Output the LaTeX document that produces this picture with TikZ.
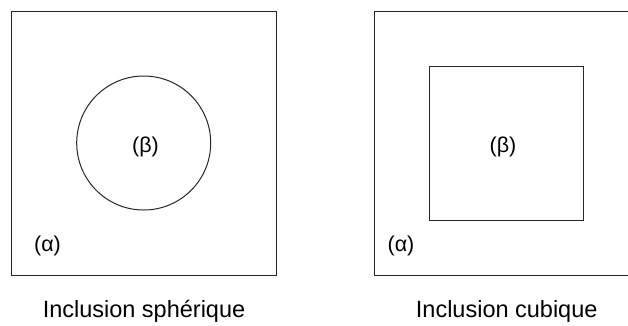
\documentclass[tikz,border=0pt]{standalone}
\usepackage{fontspec}
\setmainfont{Liberation Sans}
\begin{document}
\begin{tikzpicture}[x=1pt,y=-1pt,
  shapeline/.style={draw=black!85, line width=1pt},
  lbl/.style={font=\fontsize{21.5}{26}\selectfont, inner sep=0pt},
  captxt/.style={font=\fontsize{23.5}{28}\selectfont, inner sep=0pt, anchor=base}]
\useasboundingbox (0,0) rectangle (628,325);
\clip (0,0) rectangle (628,325);
% left panel
\draw[shapeline] (11,11) rectangle (276,275);
\node[shapeline, circle, minimum size=134pt, inner sep=0pt] (c1) at (143.7,143) {};
\node[lbl] (b1) at (145.5,147) {(β)};
\node[lbl] (a1) at (47.5,246) {(α)};
\node[captxt] (t1) at (144,317.5) {Inclusion sphérique};
% right panel
\draw[shapeline] (374,11) rectangle (640,275);
\node[shapeline, rectangle, minimum width=154pt, minimum height=154pt, inner sep=0pt] (s2) at (506,143) {};
\node[lbl] (b2) at (503,147) {(β)};
\node[lbl] (a2) at (401,246) {(α)};
\node[captxt] (t2) at (506.7,317.5) {Inclusion cubique};
\end{tikzpicture}
\end{document}
